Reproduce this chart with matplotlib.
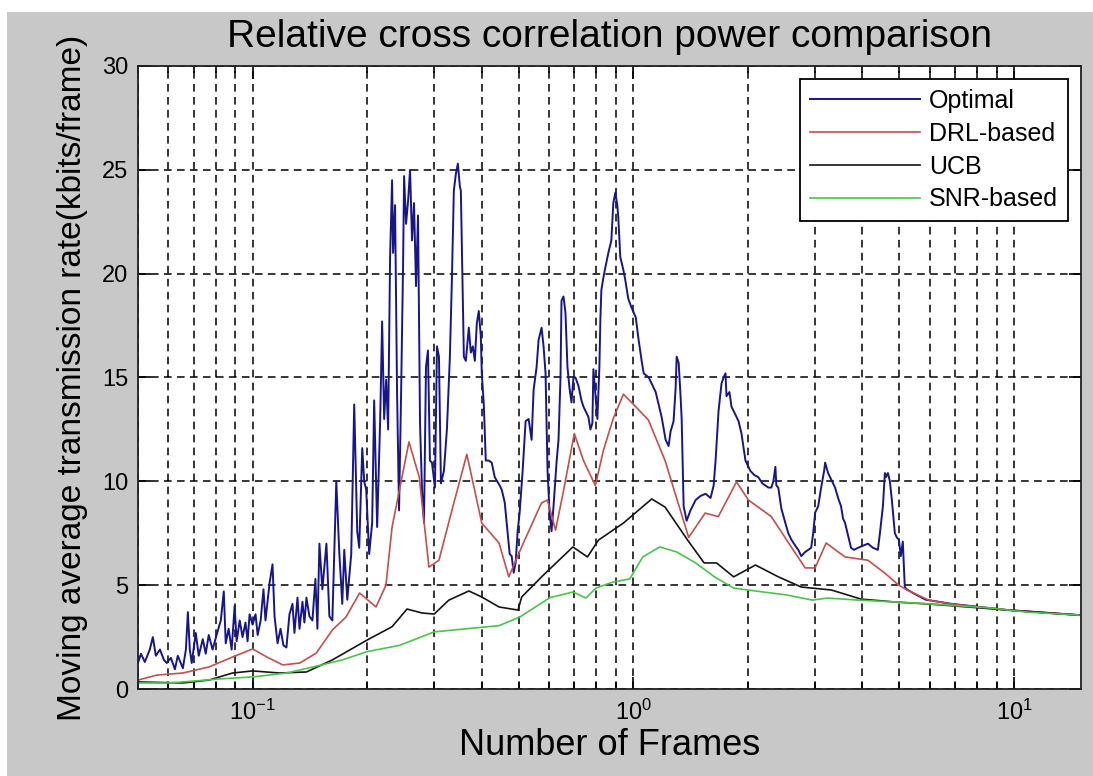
import matplotlib
matplotlib.use("Agg")
import matplotlib.pyplot as plt
from matplotlib.patches import Rectangle
from matplotlib.ticker import LogLocator, NullFormatter

plt.rcParams['font.family'] = ['Liberation Sans', 'DejaVu Sans']
plt.rcParams['mathtext.default'] = 'regular'

# Optimal
opt_x = [0.0500, 0.0509, 0.0521, 0.0537, 0.0547, 0.0557, 0.0571, 0.0585, 0.0595, 0.0610,
         0.0625, 0.0636, 0.0656, 0.0668, 0.0676, 0.0684, 0.0692, 0.0709, 0.0722, 0.0740,
         0.0753, 0.0767, 0.0785, 0.0810, 0.0825, 0.0840, 0.0850, 0.0865, 0.0881, 0.0897,
         0.0908, 0.0925, 0.0941, 0.0958, 0.0970, 0.0982, 0.1000, 0.1018, 0.1031, 0.1050,
         0.1068, 0.1081, 0.1108, 0.1128, 0.1142, 0.1163, 0.1184, 0.1205, 0.1227, 0.1250,
         0.1273, 0.1288, 0.1312, 0.1328, 0.1352, 0.1368, 0.1385, 0.1410, 0.1436, 0.1462,
         0.1480, 0.1498, 0.1525, 0.1563, 0.1591, 0.1620, 0.1659, 0.1689, 0.1720, 0.1741,
         0.1773, 0.1816, 0.1849, 0.1883, 0.1906, 0.1941, 0.1964, 0.1988, 0.2024, 0.2061,
         0.2086, 0.2124, 0.2163, 0.2189, 0.2216, 0.2243, 0.2270, 0.2297, 0.2325, 0.2339,
         0.2367, 0.2396, 0.2425, 0.2455, 0.2485, 0.2500, 0.2530, 0.2561, 0.2592, 0.2623,
         0.2655, 0.2687, 0.2720, 0.2753, 0.2786, 0.2820, 0.2854, 0.2888, 0.2923, 0.2959,
         0.3013, 0.3050, 0.3087, 0.3124, 0.3181, 0.3239, 0.3298, 0.3338, 0.3378, 0.3419,
         0.3461, 0.3503, 0.3524, 0.3589, 0.3632, 0.3698, 0.3743, 0.3789, 0.3835, 0.3881,
         0.3928, 0.3976, 0.4000, 0.4049, 0.4098, 0.4173, 0.4248, 0.4326, 0.4457, 0.4512,
         0.4594, 0.4678, 0.4735, 0.4793, 0.4851, 0.4910, 0.4969, 0.5029, 0.5121, 0.5214,
         0.5310, 0.5407, 0.5472, 0.5572, 0.5639, 0.5743, 0.5812, 0.5882, 0.5954, 0.6026,
         0.6099, 0.6173, 0.6286, 0.6362, 0.6439, 0.6478, 0.6557, 0.6636, 0.6716, 0.6798,
         0.6881, 0.6964, 0.7048, 0.7177, 0.7308, 0.7397, 0.7532, 0.7623, 0.7716, 0.7809,
         0.7857, 0.7952, 0.8048, 0.8146, 0.8195, 0.8244, 0.8344, 0.8446, 0.8600, 0.8757,
         0.8863, 0.8970, 0.9079, 0.9134, 0.9245, 0.9413, 0.9527, 0.9700, 0.9878, 1.015,
         1.033, 1.052, 1.065, 1.098, 1.125, 1.145, 1.166, 1.187, 1.216, 1.238,
         1.253, 1.276, 1.292, 1.300, 1.316, 1.332, 1.340, 1.356, 1.381, 1.413,
         1.458, 1.503, 1.549, 1.596, 1.626, 1.645, 1.675, 1.705, 1.726, 1.747,
         1.757, 1.789, 1.811, 1.856, 1.890, 1.924, 1.971, 2.031, 2.081, 2.131,
         2.183, 2.223, 2.264, 2.305, 2.333, 2.362, 2.376, 2.404, 2.448, 2.508,
         2.554, 2.600, 2.664, 2.713, 2.762, 2.829, 2.880, 2.933, 2.969, 3.005,
         3.060, 3.115, 3.172, 3.191, 3.249, 3.329, 3.389, 3.451, 3.514, 3.557,
         3.600, 3.666, 3.732, 3.800, 3.893, 4.012, 4.135, 4.261, 4.391, 4.445,
         4.526, 4.581, 4.608, 4.665, 4.721, 4.778, 4.865, 4.924, 4.984, 5.044,
         5.105, 5.167, 5.230, 5.455, 5.864, 6.86, 9.66, 14.8]
opt_y = [1.25, 1.7, 1.3, 1.9, 2.5, 1.6, 1.9, 1.4, 1.25, 1.5,
         0.95, 1.6, 1.0, 1.9, 3.7, 1.9, 1.25, 2.7, 1.6, 2.4,
         1.7, 2.6, 1.9, 2.8, 3.3, 4.7, 2.2, 2.9, 1.9, 4.0,
         2.3, 3.3, 2.5, 3.2, 2.3, 3.6, 3.1, 3.6, 2.6, 3.3,
         4.8, 3.3, 5.1, 6.0, 3.5, 2.2, 2.9, 2.1, 2.0, 3.6,
         4.1, 2.7, 4.4, 2.9, 4.2, 3.2, 4.4, 3.5, 3.3, 5.3,
         2.9, 7.0, 4.8, 7.0, 3.5, 3.3, 10.0, 6.6, 4.1, 6.7,
         4.3, 6.5, 13.7, 7.6, 6.8, 11.6, 10.0, 9.6, 6.5, 8.0,
         13.9, 7.8, 12.9, 17.7, 13.0, 14.9, 12.5, 20.8, 24.5, 21.0,
         23.3, 14.3, 8.6, 14.2, 20.5, 24.7, 22.4, 23.5, 25.0, 21.6,
         23.4, 19.4, 22.8, 12.8, 9.6, 8.0, 15.5, 16.3, 11.0, 10.9,
         9.7, 16.5, 16.0, 9.9, 10.5, 12.5, 16.0, 19.7, 24.0, 24.8,
         25.3, 24.2, 24.0, 16.0, 15.8, 17.4, 16.2, 16.5, 15.8, 17.6,
         18.2, 17.0, 15.2, 13.7, 11.0, 11.0, 10.9, 10.2, 9.8, 9.6,
         9.0, 7.5, 6.5, 6.4, 5.6, 6.1, 7.6, 8.5, 10.5, 12.9,
         13.0, 12.0, 14.4, 15.5, 16.8, 17.4, 16.5, 15.2, 10.5, 8.5,
         7.6, 8.8, 10.9, 12.0, 15.0, 18.7, 18.9, 18.1, 15.5, 14.5,
         13.8, 15.0, 15.0, 14.6, 13.9, 13.6, 13.3, 13.1, 12.5, 12.8,
         15.4, 14.2, 13.0, 15.5, 17.8, 19.2, 19.8, 20.3, 21.0, 21.6,
         23.4, 23.9, 23.3, 22.7, 20.8, 20.2, 19.7, 18.8, 18.4, 17.9,
         16.8, 15.8, 15.2, 15.0, 14.6, 14.3, 13.7, 13.1, 12.0, 11.7,
         12.4, 12.9, 14.5, 16.0, 15.7, 14.0, 13.0, 8.8, 8.1, 8.6,
         9.1, 9.3, 9.4, 9.2, 9.8, 11.0, 13.4, 14.7, 15.0, 15.2,
         14.1, 14.3, 13.6, 13.2, 12.9, 12.3, 11.0, 10.5, 10.3, 10.2,
         9.9, 9.8, 9.7, 9.7, 10.0, 10.7, 9.8, 9.7, 8.7, 8.0,
         7.5, 7.2, 6.9, 6.7, 6.4, 6.6, 6.7, 6.8, 7.5, 8.5,
         8.8, 9.7, 10.5, 10.9, 10.4, 10.0, 9.7, 9.2, 8.8, 8.2,
         8.0, 7.4, 6.8, 6.7, 6.8, 6.9, 7.0, 6.8, 6.7, 7.5,
         8.8, 10.4, 10.2, 10.4, 10.0, 9.1, 7.5, 7.3, 7.2, 6.4,
         7.1, 4.9, 4.8, 4.6, 4.3, 4.1, 3.8, 3.56]

# DRL-based
drl_x = [0.0500, 0.0560, 0.0656, 0.0768, 0.0886, 0.1000, 0.1090, 0.1200, 0.1330, 0.1470,
         0.1620, 0.1760, 0.1910, 0.2110, 0.2240, 0.2325, 0.2575, 0.2740, 0.2906, 0.3087,
         0.3338, 0.3654, 0.4000, 0.4440, 0.4710, 0.5090, 0.5740, 0.5950, 0.6250, 0.6550,
         0.7000, 0.7400, 0.7950, 0.8350, 0.8850, 0.9420, 1.014, 1.096, 1.212, 1.398,
         1.544, 1.672, 1.867, 2.007, 2.305, 2.600, 2.829, 3.004, 3.211, 3.600,
         4.135, 4.580, 4.980, 5.230, 5.970, 6.860, 9.660, 14.8]
drl_y = [0.43, 0.67, 0.77, 1.06, 1.54, 1.93, 1.54, 1.16, 1.25, 1.73,
         2.84, 3.47, 4.62, 3.95, 5.0, 7.8, 11.9, 10.2, 5.87, 6.2,
         8.6, 11.3, 7.99, 7.03, 5.4, 6.84, 8.96, 9.1, 7.65, 9.5,
         12.3, 11.0, 9.8, 11.5, 13.0, 14.2, 13.6, 12.95, 11.0, 7.3,
         8.47, 8.3, 9.97, 9.1, 8.3, 6.84, 5.83, 5.83, 7.03, 6.36,
         6.2, 5.58, 5.0, 4.77, 4.28, 4.09, 3.8, 3.56]

# UCB
ucb_x = [0.0500, 0.0656, 0.0768, 0.0886, 0.1000, 0.1177, 0.1385, 0.1620, 0.2000, 0.2325,
         0.2545, 0.2786, 0.3000, 0.3277, 0.3700, 0.4000, 0.4440, 0.4980, 0.5090, 0.5810,
         0.6940, 0.7580, 0.8100, 0.9420, 1.118, 1.212, 1.389, 1.535, 1.655, 1.835,
         2.094, 2.405, 2.762, 3.309, 3.964, 4.865, 6.000, 9.660, 14.8]
ucb_y = [0.34, 0.29, 0.43, 0.77, 0.87, 0.77, 0.82, 1.4, 2.36, 3.0,
         3.85, 3.66, 3.61, 4.28, 4.72, 4.43, 3.95, 3.8, 4.43, 5.49,
         6.84, 6.36, 7.17, 7.99, 9.15, 8.76, 7.17, 6.07, 6.07, 5.4,
         5.97, 5.4, 4.91, 4.77, 4.33, 4.19, 4.09, 3.8, 3.56]

# SNR-based
snr_x = [0.050, 0.060, 0.071, 0.081, 0.100, 0.123, 0.144, 0.172, 0.200, 0.243,
         0.300, 0.364, 0.444, 0.504, 0.604, 0.694, 0.751, 0.798, 0.884, 0.979,
         1.059, 1.174, 1.300, 1.458, 1.635, 1.834, 2.198, 2.526, 2.954, 3.236,
         3.900, 4.875, 6.130, 8.650, 10.90, 14.8]
snr_y = [0.29, 0.29, 0.39, 0.48, 0.58, 0.77, 1.06, 1.40, 1.80, 2.10,
         2.75, 2.90, 3.05, 3.47, 4.40, 4.67, 4.38, 4.86, 5.15, 5.30,
         6.36, 6.84, 6.60, 6.07, 5.40, 4.86, 4.67, 4.53, 4.28, 4.38,
         4.28, 4.19, 4.09, 3.90, 3.70, 3.56]

fig = plt.figure(figsize=(10.93, 7.76), dpi=100, facecolor='white')
# grey figure panel, white strip along the top and left edges
fig.add_artist(Rectangle((7 / 1093, 0), 1, 1 - 12 / 776, transform=fig.transFigure,
                         facecolor='#c8c8c8', edgecolor='none', zorder=-10))

ax = fig.add_axes([138 / 1093, 1 - 689 / 776, 943 / 1093, 623 / 776])
ax.set_facecolor('white')

ax.plot(opt_x, opt_y, color='#16168a', lw=1.4, label='Optimal')
ax.plot(drl_x, drl_y, color='#c4504c', lw=1.2, label='DRL-based')
ax.plot(ucb_x, ucb_y, color='#151515', lw=1.2, label='UCB')
ax.plot(snr_x, snr_y, color='#4cc44c', lw=1.2, label='SNR-based')

ax.set_xscale('log')
ax.set_xlim(0.05, 15)
ax.set_ylim(0, 30)
ax.set_yticks([0, 5, 10, 15, 20, 25, 30])
ax.xaxis.set_minor_locator(LogLocator(base=10, subs=range(2, 10)))
ax.xaxis.set_minor_formatter(NullFormatter())

grid_style = dict(color='black', linestyle=(0, (5, 3.5)), linewidth=1.1)
ax.grid(True, which='major', axis='both', **grid_style)
ax.grid(True, which='minor', axis='x', **grid_style)
ax.set_axisbelow(True)

ax.tick_params(which='both', direction='in', top=True, right=True, labelsize=17, width=1.2)
ax.tick_params(which='major', length=9)
ax.tick_params(which='minor', length=5)
ax.tick_params(axis='x', pad=8)
ax.tick_params(axis='y', pad=7)
for s in ax.spines.values():
    s.set_linewidth(1.3)
    s.set_color('#202020')

ax.set_title('Relative cross correlation power comparison', fontsize=28, pad=14)
ax.set_xlabel('Number of Frames', fontsize=26, labelpad=2)
ax.set_ylabel('Moving average transmission rate(kbits/frame)', fontsize=24, labelpad=10)

leg = ax.legend(loc='upper right', bbox_to_anchor=(0.986, 0.979), borderaxespad=0,
                fontsize=18, handlelength=4.4, handletextpad=0.35, labelspacing=0.35,
                borderpad=0.4, fancybox=False, framealpha=1, edgecolor='black')
leg.get_frame().set_linewidth(1.3)

fig.savefig('out.png', dpi=100, facecolor=fig.get_facecolor())
